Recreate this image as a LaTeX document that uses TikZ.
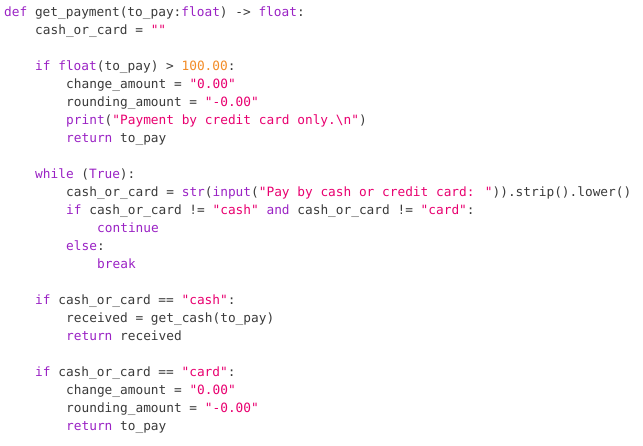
\documentclass[tikz,border=0pt]{standalone}
\usepackage{fontspec}
\newfontfamily\codefont[WordSpace={1,0,0}]{DejaVu Sans Mono}
\definecolor{kw}{HTML}{9A22C4}
\definecolor{st}{HTML}{E8006F}
\definecolor{nu}{HTML}{F28C28}
\definecolor{tx}{HTML}{3A3A3A}
\newcommand{\K}[1]{\textcolor{kw}{#1}}
\newcommand{\Sg}[1]{\textcolor{st}{#1}}
\newcommand{\N}[1]{\textcolor{nu}{#1}}
\begin{document}
\begin{tikzpicture}[x=1pt,y=1pt,
  code/.style={anchor=base west,inner sep=0pt,text=tx,font=\codefont\fontsize{12.8}{14}\selectfont}]
\useasboundingbox (0,0) rectangle (643,-445);
\newcommand{\Ln}[3]{\node[code] (l#1) at ({4+31*#2},{-16-18*#1}) {#3};}
\Ln{0}{0}{\K{def} get\_payment(to\_pay:\K{float}) -> \K{float}:}
\Ln{1}{1}{cash\_or\_card = \Sg{""}}
\Ln{3}{1}{\K{if} \K{float}(to\_pay) > \N{100.00}:}
\Ln{4}{2}{change\_amount = \Sg{"0.00"}}
\Ln{5}{2}{rounding\_amount = \Sg{"-0.00"}}
\Ln{6}{2}{\K{print}(\Sg{"Payment by credit card only.\textbackslash n"})}
\Ln{7}{2}{\K{return} to\_pay}
\Ln{9}{1}{\K{while} (\K{True}):}
\Ln{10}{2}{cash\_or\_card = \K{str}(\K{input}(\Sg{"Pay by cash or credit card: "})).strip().lower()}
\Ln{11}{2}{\K{if} cash\_or\_card != \Sg{"cash"} \K{and} cash\_or\_card != \Sg{"card"}:}
\Ln{12}{3}{\K{continue}}
\Ln{13}{2}{\K{else}:}
\Ln{14}{3}{\K{break}}
\Ln{16}{1}{\K{if} cash\_or\_card == \Sg{"cash"}:}
\Ln{17}{2}{received = get\_cash(to\_pay)}
\Ln{18}{2}{\K{return} received}
\Ln{20}{1}{\K{if} cash\_or\_card == \Sg{"card"}:}
\Ln{21}{2}{change\_amount = \Sg{"0.00"}}
\Ln{22}{2}{rounding\_amount = \Sg{"-0.00"}}
\Ln{23}{2}{\K{return} to\_pay}
\end{tikzpicture}
\end{document}
